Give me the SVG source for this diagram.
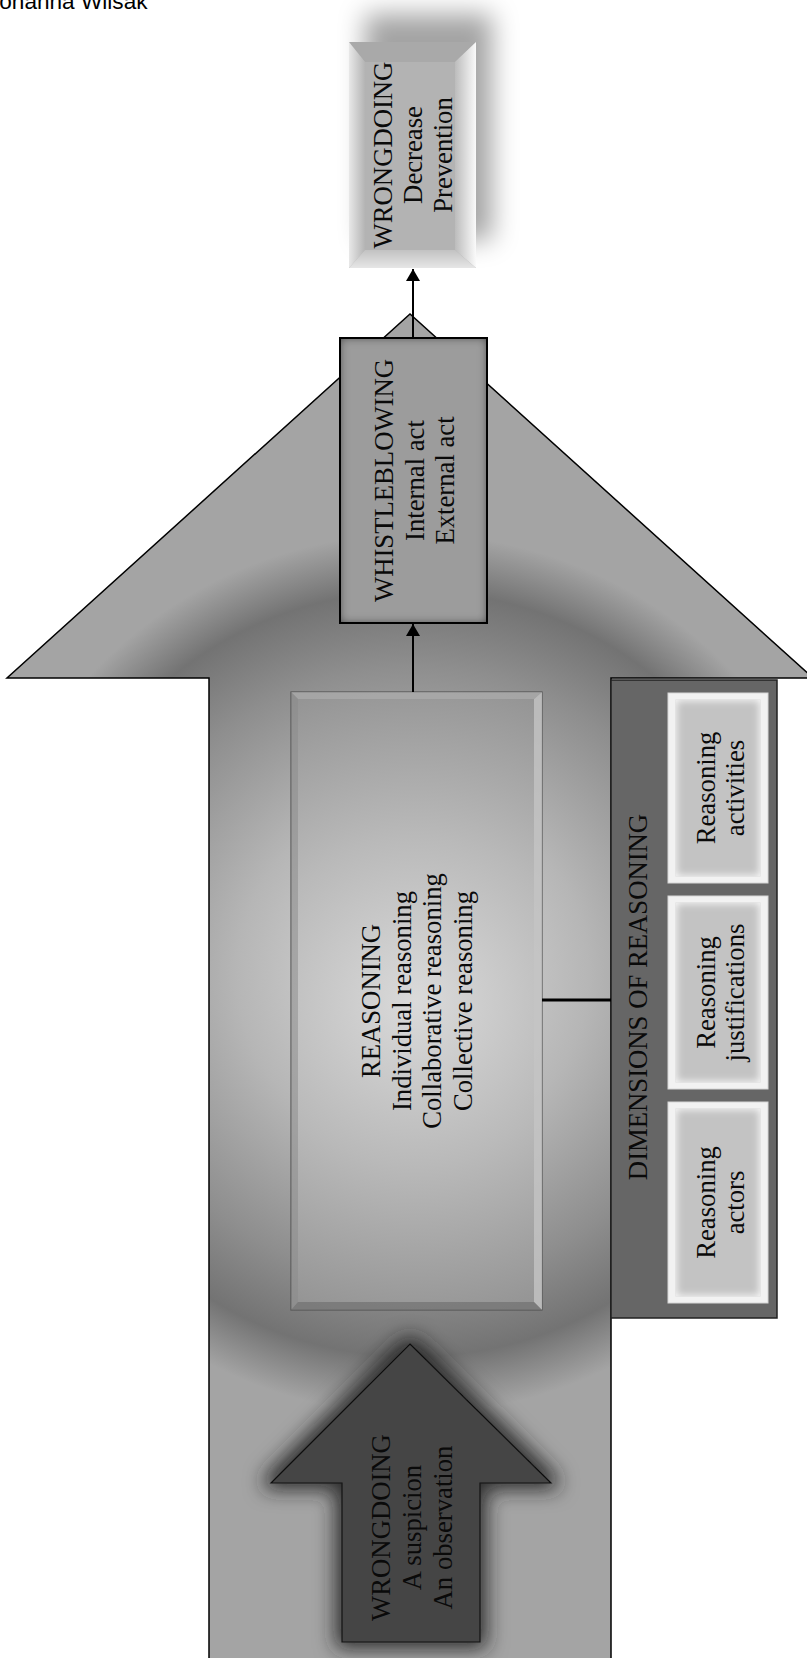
<svg xmlns="http://www.w3.org/2000/svg" width="807" height="1658" viewBox="0 0 807 1658">
<style>
.t{font-family:"Liberation Serif","Times New Roman",serif;font-size:26.7px;fill:#0a0a0a;text-anchor:middle}
.title{font-family:"Liberation Sans",Arial,sans-serif;font-size:22.6px;fill:#000}
.conn{stroke:#000;stroke-width:2;fill:none}
</style>
<defs>
<radialGradient id="glowBig" gradientUnits="userSpaceOnUse" cx="413" cy="974" r="440">
<stop offset="0" stop-color="#dcdcdc"/>
<stop offset="0.4" stop-color="#b6b6b6"/>
<stop offset="0.7" stop-color="#8e8e8e"/>
<stop offset="0.87" stop-color="#737373"/>
<stop offset="1" stop-color="#a4a4a4"/>
</radialGradient>
<radialGradient id="reasFace" gradientUnits="userSpaceOnUse" cx="416" cy="1001" r="330">
<stop offset="0" stop-color="#dadada"/>
<stop offset="0.5" stop-color="#b9b9b9"/>
<stop offset="1" stop-color="#939393"/>
</radialGradient>
<linearGradient id="bevL" x1="0" y1="0" x2="1" y2="0">
<stop offset="0" stop-color="#e8e8e8"/><stop offset="1" stop-color="#b4b4b4"/>
</linearGradient>
<linearGradient id="bevR" x1="0" y1="0" x2="1" y2="0">
<stop offset="0" stop-color="#bcbcbc"/><stop offset="1" stop-color="#fafafa"/>
</linearGradient>
<linearGradient id="bevB" x1="0" y1="0" x2="0" y2="1">
<stop offset="0" stop-color="#c2c2c2"/><stop offset="1" stop-color="#e6e6e6"/>
</linearGradient>
<filter id="softShadow" x="-50%" y="-50%" width="200%" height="200%">
<feGaussianBlur in="SourceAlpha" stdDeviation="13"/>
<feOffset dx="16" dy="-28" result="o"/>
<feFlood flood-color="#000" flood-opacity="0.36"/>
<feComposite in2="o" operator="in" result="s"/>
<feMerge><feMergeNode in="s"/><feMergeNode in="SourceGraphic"/></feMerge>
</filter>
<filter id="innerDark" x="-15%" y="-15%" width="130%" height="130%">
<feComponentTransfer in="SourceAlpha" result="inv"><feFuncA type="table" tableValues="1 0"/></feComponentTransfer>
<feGaussianBlur in="inv" stdDeviation="5" result="b"/>
<feFlood flood-color="#1e1e1e"/>
<feComposite in2="b" operator="in" result="c"/>
<feComposite in="c" in2="SourceAlpha" operator="in" result="d"/>
<feMerge><feMergeNode in="SourceGraphic"/><feMergeNode in="d"/></feMerge>
</filter>
<filter id="innerWhite" x="-20%" y="-20%" width="140%" height="140%">
<feComponentTransfer in="SourceAlpha" result="inv"><feFuncA type="table" tableValues="1 0"/></feComponentTransfer>
<feGaussianBlur in="inv" stdDeviation="4" result="b"/>
<feFlood flood-color="#ffffff"/>
<feComposite in2="b" operator="in" result="c"/>
<feComposite in="c" in2="SourceAlpha" operator="in" result="d"/>
<feMerge><feMergeNode in="SourceGraphic"/><feMergeNode in="d"/></feMerge>
</filter>
<filter id="darkGlow" x="-30%" y="-30%" width="160%" height="160%">
<feMorphology in="SourceAlpha" operator="dilate" radius="6" result="m"/>
<feGaussianBlur in="m" stdDeviation="10" result="b"/>
<feFlood flood-color="#222" flood-opacity="0.9"/>
<feComposite in2="b" operator="in" result="s"/>
<feMerge><feMergeNode in="s"/><feMergeNode in="SourceGraphic"/></feMerge>
</filter>
<marker id="ah" viewBox="0 0 12 14" refX="12" refY="7" markerWidth="12" markerHeight="14" markerUnits="userSpaceOnUse" orient="auto">
<path d="M0,0 L12,7 L0,14 Z" fill="#000"/>
</marker>
</defs>
<rect width="807" height="1658" fill="#fff"/>
<text class="title" x="-12" y="8.5">Johanna Wilsak</text>

<g id="big-arrow">
<polygon points="209,1670 209,678 7,678 410,314 813,678 611,678 611,1670" fill="url(#glowBig)" stroke="#000" stroke-width="1.5" stroke-linejoin="miter"/>
</g>

<g id="outcome">
<g filter="url(#softShadow)">
<rect x="349" y="42" width="127" height="226" fill="#b3b3b3"/>
</g>
<polygon points="349,42 476,42 455,62 365,62" fill="#a9a9a9"/>
<polygon points="349,42 365,62 365,250 349,268" fill="url(#bevL)"/>
<polygon points="476,42 476,268 455,250 455,62" fill="url(#bevR)"/>
<polygon points="349,268 476,268 455,250 365,250" fill="url(#bevB)"/>
<rect x="365" y="62" width="90" height="188" fill="#b3b3b3"/>
<g transform="translate(413,155) rotate(-90)">
<text class="t" x="0" y="-21">WRONGDOING</text>
<text class="t" x="0" y="9">Decrease</text>
<text class="t" x="0" y="39">Prevention</text>
</g>
</g>

<g id="whistleblowing">
<rect x="340" y="338" width="147" height="285" fill="#9c9c9c" filter="url(#innerDark)"/>
<rect x="340" y="338" width="147" height="285" fill="none" stroke="#000" stroke-width="2"/>
<g transform="translate(413,480.5) rotate(-90)">
<text class="t" x="0" y="-20">WHISTLEBLOWING</text>
<text class="t" x="0" y="10.5">Internal act</text>
<text class="t" x="0" y="41">External act</text>
</g>
</g>

<g id="reasoning">
<rect x="291" y="692" width="251" height="618" fill="url(#reasFace)" stroke="#555" stroke-width="1.2"/>
<polygon points="534,699 542,692 542,1310 534,1302" fill="#c4c4c4" opacity="0.8"/>
<polygon points="291,692 542,692 534,699 298,699" fill="#b0b0b0" opacity="0.6"/>
<polygon points="291,692 298,699 298,1302 291,1310" fill="#8a8a8a" opacity="0.5"/>
<polygon points="291,1310 542,1310 534,1302 298,1302" fill="#707070" opacity="0.7"/>
<g transform="translate(416,1001) rotate(-90)">
<text class="t" x="0" y="-36">REASONING</text>
<text class="t" x="0" y="-5.5">Individual reasoning</text>
<text class="t" x="0" y="25">Collaborative reasoning</text>
<text class="t" x="0" y="55.5">Collective reasoning</text>
</g>
</g>

<g id="dimensions">
<rect x="611" y="680" width="166" height="638" fill="#666" stroke="#222" stroke-width="1.5"/>
<text class="t" transform="translate(647,997) rotate(-90)">DIMENSIONS OF REASONING</text>
</g>

<g id="activities">
<rect x="668" y="693" width="100" height="190" fill="#f2f2f2" stroke="#d6d6d6" stroke-width="1"/>
<rect x="676" y="700" width="84" height="176" fill="#c3c3c3" stroke="#bdbdbd" stroke-width="1" filter="url(#innerWhite)"/>
<g transform="translate(718,788) rotate(-90)">
<text class="t" x="0" y="-3">Reasoning</text>
<text class="t" x="0" y="26">activities</text>
</g>
</g>

<g id="justifications">
<rect x="668" y="896" width="100" height="193" fill="#f2f2f2" stroke="#d6d6d6" stroke-width="1"/>
<rect x="676" y="903" width="84" height="179" fill="#c3c3c3" stroke="#bdbdbd" stroke-width="1" filter="url(#innerWhite)"/>
<g transform="translate(718,992.5) rotate(-90)">
<text class="t" x="0" y="-3">Reasoning</text>
<text class="t" x="0" y="26">justifications</text>
</g>
</g>

<g id="actors">
<rect x="668" y="1102" width="100" height="201" fill="#f2f2f2" stroke="#d6d6d6" stroke-width="1"/>
<rect x="676" y="1109" width="84" height="187" fill="#c3c3c3" stroke="#bdbdbd" stroke-width="1" filter="url(#innerWhite)"/>
<g transform="translate(718,1202.5) rotate(-90)">
<text class="t" x="0" y="-3">Reasoning</text>
<text class="t" x="0" y="26">actors</text>
</g>
</g>

<g id="wrongdoing-start">
<polygon points="410,1344 551,1483 480,1483 480,1642 342,1642 342,1483 271,1483" fill="#444" stroke="#111" stroke-width="1.2" filter="url(#darkGlow)"/>
<g transform="translate(410,1527.5) rotate(-90)">
<text class="t" x="0" y="-20">WRONGDOING</text>
<text class="t" x="0" y="11">A suspicion</text>
<text class="t" x="0" y="42">An observation</text>
</g>
</g>

<g id="connectors">
<line class="conn" x1="413" y1="692" x2="413" y2="624" marker-end="url(#ah)"/>
<line class="conn" x1="413" y1="338" x2="413" y2="269" marker-end="url(#ah)"/>
<line x1="542" y1="1000" x2="611" y2="1000" stroke="#000" stroke-width="3"/>
</g>
</svg>
